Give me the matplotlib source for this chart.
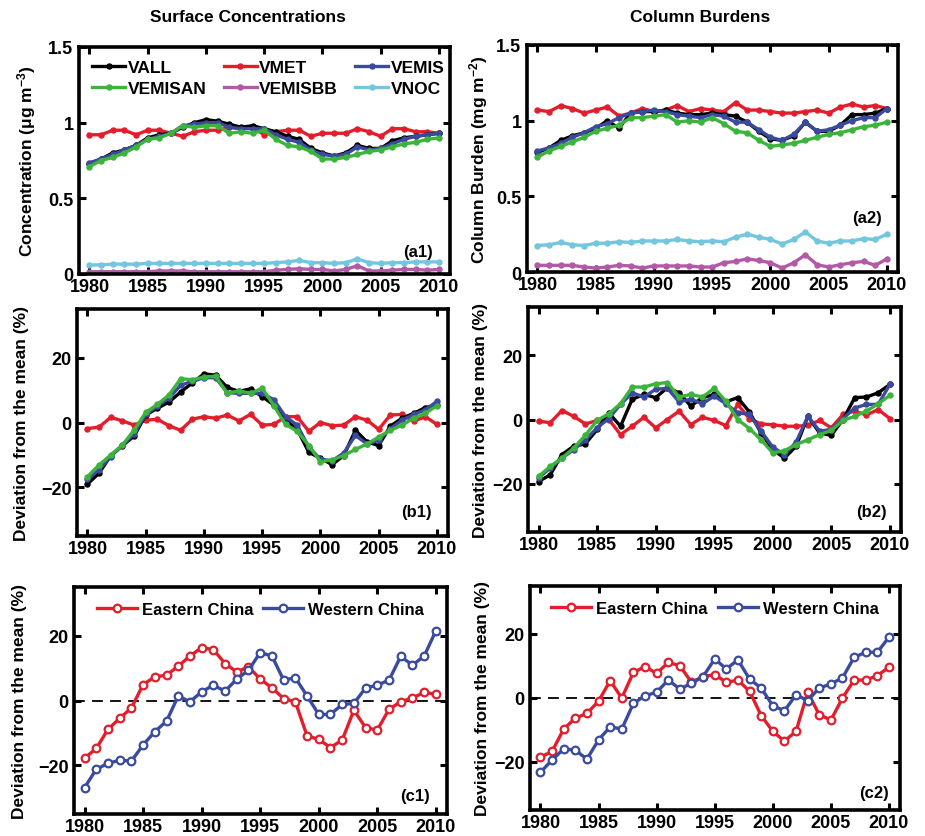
import matplotlib
matplotlib.use('Agg')
import matplotlib.pyplot as plt

plt.rcParams['font.family'] = ['Liberation Sans', 'DejaVu Sans']
plt.rcParams['font.weight'] = 'bold'
plt.rcParams['mathtext.fontset'] = 'custom'
plt.rcParams['mathtext.rm'] = 'Liberation Sans:bold'
plt.rcParams['mathtext.default'] = 'rm'

years = list(range(1980, 2011))

# ---- (a1) surface concentrations, ug m-3
a1_vall = [0.73, 0.76, 0.80, 0.82, 0.85, 0.90, 0.92, 0.93, 0.97, 1.00, 1.02, 1.01, 0.99, 0.97, 0.98, 0.96,
           0.94, 0.91, 0.89, 0.83, 0.80, 0.78, 0.80, 0.85, 0.83, 0.83, 0.88, 0.90, 0.91, 0.92, 0.93]
a1_vmet = [0.92, 0.92, 0.95, 0.95, 0.92, 0.95, 0.95, 0.93, 0.91, 0.94, 0.95, 0.95, 0.97, 0.96, 0.97, 0.92,
           0.94, 0.95, 0.95, 0.91, 0.93, 0.93, 0.93, 0.96, 0.94, 0.91, 0.96, 0.96, 0.94, 0.94, 0.93]
a1_vemis = [0.735, 0.76, 0.79, 0.82, 0.85, 0.89, 0.91, 0.93, 0.98, 0.99, 1.00, 1.00, 0.97, 0.96, 0.96, 0.96,
            0.92, 0.89, 0.87, 0.82, 0.79, 0.78, 0.79, 0.84, 0.82, 0.83, 0.86, 0.89, 0.91, 0.92, 0.93]
a1_vemisan = [0.71, 0.75, 0.77, 0.80, 0.84, 0.89, 0.90, 0.93, 0.98, 0.97, 0.98, 0.98, 0.93, 0.94, 0.93, 0.95,
              0.89, 0.85, 0.84, 0.81, 0.76, 0.76, 0.77, 0.79, 0.81, 0.82, 0.84, 0.86, 0.87, 0.89, 0.90]
a1_vemisbb = [0.015, 0.015, 0.015, 0.015, 0.015, 0.015, 0.02, 0.02, 0.02, 0.015, 0.015, 0.015, 0.015, 0.015,
              0.015, 0.015, 0.025, 0.03, 0.035, 0.03, 0.03, 0.02, 0.03, 0.055, 0.02, 0.02, 0.025, 0.03, 0.03,
              0.025, 0.03]
a1_vnoc = [0.06, 0.06, 0.065, 0.065, 0.065, 0.07, 0.07, 0.07, 0.07, 0.07, 0.07, 0.07, 0.07, 0.07, 0.07, 0.07,
           0.075, 0.08, 0.09, 0.075, 0.075, 0.07, 0.075, 0.10, 0.075, 0.07, 0.075, 0.075, 0.08, 0.08, 0.08]

# ---- (a2) column burdens, mg m-2
a2_vall = [0.79, 0.82, 0.87, 0.90, 0.92, 0.95, 1.00, 0.95, 1.05, 1.06, 1.06, 1.07, 1.05, 1.04, 1.04, 1.05,
           1.04, 1.03, 0.99, 0.93, 0.88, 0.87, 0.90, 0.99, 0.93, 0.93, 0.97, 1.04, 1.04, 1.05, 1.08]
a2_vmet = [1.07, 1.06, 1.10, 1.08, 1.05, 1.07, 1.09, 1.03, 1.05, 1.08, 1.06, 1.07, 1.10, 1.06, 1.08, 1.07,
           1.06, 1.12, 1.07, 1.07, 1.06, 1.05, 1.05, 1.06, 1.07, 1.05, 1.09, 1.11, 1.09, 1.10, 1.08]
a2_vemis = [0.80, 0.82, 0.85, 0.89, 0.92, 0.96, 0.98, 1.02, 1.05, 1.06, 1.07, 1.06, 1.04, 1.03, 1.02, 1.04,
            1.03, 0.99, 0.99, 0.94, 0.89, 0.87, 0.91, 0.99, 0.93, 0.94, 0.97, 1.00, 1.02, 1.02, 1.08]
a2_vemisan = [0.76, 0.80, 0.83, 0.86, 0.89, 0.93, 0.95, 0.97, 1.02, 1.02, 1.03, 1.04, 0.99, 1.00, 0.99, 1.02,
              0.98, 0.93, 0.92, 0.87, 0.83, 0.84, 0.85, 0.87, 0.89, 0.91, 0.92, 0.94, 0.96, 0.97, 0.99]
a2_vemisbb = [0.044, 0.044, 0.044, 0.044, 0.033, 0.026, 0.033, 0.044, 0.04, 0.026, 0.04, 0.04, 0.04, 0.04,
              0.033, 0.033, 0.061, 0.07, 0.087, 0.076, 0.061, 0.026, 0.061, 0.114, 0.048, 0.033, 0.048,
              0.061, 0.07, 0.044, 0.087]
a2_vnoc = [0.175, 0.18, 0.195, 0.18, 0.175, 0.19, 0.19, 0.20, 0.195, 0.205, 0.205, 0.205, 0.215, 0.205, 0.20,
           0.205, 0.20, 0.23, 0.25, 0.23, 0.215, 0.185, 0.215, 0.265, 0.205, 0.19, 0.205, 0.205, 0.22, 0.215,
           0.25]

# ---- (b1) deviation from mean, surface (%)
b1_vall = [-19.0, -15.6, -10.2, -7.1, -4.2, 2.3, 4.4, 6.3, 9.4, 12.2, 15.0, 14.6, 10.8, 9.6, 10.4, 8.0,
           5.4, 0.7, -2.1, -9.2, -11.0, -13.0, -10.2, -2.4, -6.0, -7.1, -1.1, 1.3, 2.8, 4.6, 5.4]
b1_vmet = [-1.9, -1.4, 1.6, 0.5, -0.8, 0.7, 1.0, -1.0, -2.4, 1.0, 1.8, 1.3, 2.3, 0.5, 2.5, -0.8,
           -0.6, 1.8, 1.8, -2.7, 0.0, -1.0, -0.8, 1.8, 0.7, -2.1, 2.3, 2.5, 0.4, 1.8, -0.6]
b1_vemis = [-17.5, -14.5, -10.5, -7.0, -3.5, 2.5, 5.0, 7.5, 11.5, 12.7, 13.8, 13.8, 9.2, 9.0, 9.0, 9.0,
            7.0, 1.8, -0.8, -7.6, -11.3, -11.8, -9.4, -4.0, -6.6, -5.5, -1.9, 0.7, 2.5, 3.9, 6.5]
b1_vemisan = [-16.7, -13.1, -10.0, -6.9, -2.4, 3.1, 5.6, 8.5, 13.5, 13.2, 14.0, 14.3, 9.0, 9.8, 9.0, 10.6,
              5.2, -0.6, -2.7, -7.1, -12.1, -11.5, -10.2, -8.3, -6.6, -4.5, -2.4, -0.8, 1.3, 2.8, 5.2]

# ---- (b2) deviation from mean, column (%)
b2_vall = [-19.3, -17.2, -10.9, -8.3, -7.6, -3.1, 2.1, -2.1, 6.3, 7.8, 6.8, 9.9, 8.3, 4.2, 6.8, 7.8,
           5.5, 6.8, 2.4, -4.2, -9.4, -12.0, -8.3, 1.0, -4.2, -4.9, 0.0, 6.8, 7.0, 8.3, 10.9]
b2_vmet = [-0.5, -1.0, 2.8, 1.0, -1.4, -0.3, 0.0, -4.7, -2.1, 0.7, -2.6, 0.0, 2.6, -1.6, 0.7, -0.3,
           -1.9, 4.7, 0.3, -1.4, -1.6, -2.1, -2.1, -1.8, -0.3, -2.6, 1.6, 2.6, 1.4, 3.1, 0.3]
b2_vemis = [-18.2, -15.1, -12.0, -9.4, -6.3, -2.6, 0.3, 4.7, 8.3, 7.0, 9.4, 9.7, 5.5, 6.3, 4.9, 7.3,
            4.9, 2.1, 1.6, -3.6, -8.6, -10.9, -7.0, 1.0, -3.6, -3.1, 0.3, 3.6, 4.7, 4.7, 10.9]
b2_vemisan = [-17.7, -14.6, -12.0, -8.9, -4.9, -0.3, 1.8, 4.9, 10.1, 10.1, 11.1, 11.5, 7.0, 7.8, 7.0, 9.7,
              5.7, 0.0, -2.8, -6.3, -10.4, -9.7, -7.8, -6.3, -4.7, -3.4, -0.3, 1.0, 2.6, 4.9, 7.5]

# ---- (c1)/(c2) regional deviations (%)
c1_east = [-17.8, -14.8, -8.9, -5.5, -2.3, 4.9, 7.3, 7.8, 10.6, 13.7, 16.3, 15.7, 11.4, 8.8, 10.4, 6.6,
           3.9, 0.6, -0.4, -10.9, -12.0, -14.5, -12.2, -3.0, -8.4, -9.1, -2.7, -0.4, 0.8, 2.5, 1.9]
c1_west = [-26.9, -21.2, -19.4, -18.4, -18.7, -13.7, -9.6, -6.4, 1.4, -0.4, 2.7, 4.7, 2.9, 6.6, 9.3, 14.8,
           13.7, 6.3, 7.0, 1.4, -4.3, -4.3, -1.2, -0.9, 3.9, 4.7, 6.3, 13.6, 10.9, 13.7, 21.5]
c2_east = [-18.5, -16.7, -9.7, -6.3, -4.8, -1.0, 5.4, 0.0, 8.0, 9.8, 7.7, 11.1, 10.1, 4.9, 6.7, 7.3,
           4.9, 5.6, 2.1, -5.5, -10.4, -13.5, -10.4, 1.8, -5.2, -6.9, 0.0, 5.6, 5.6, 7.0, 9.6]
c2_west = [-23.2, -19.4, -15.9, -16.3, -19.1, -13.1, -9.0, -9.7, -1.7, 0.7, 1.8, 5.6, 2.8, 4.6, 6.7, 12.2,
           9.1, 11.9, 5.9, 3.1, -2.4, -4.0, 1.0, -0.8, 3.1, 4.4, 6.3, 12.7, 14.3, 14.3, 19.0]

xticks = [1980, 1985, 1990, 1995, 2000, 2005, 2010]
a_yticks = [0, 0.5, 1, 1.5]
a_yticklabels = ['0', '0.5', '1', '1.5']
bc_yticks = [-20, 0, 20]

RED = '#e31e2c'
BLACK = '#000000'
BLUE = '#3a4b9f'
GREEN = '#3cb43c'
MAGENTA = '#b25aa6'
CYAN = '#72c6de'

W, H = 925, 837
fig = plt.figure(figsize=(W / 100, H / 100), dpi=100)


def add_ax(left, top, right, bottom):
    return fig.add_axes([left / W, 1 - bottom / H, (right - left) / W, (bottom - top) / H])


def style(ax, ylim, yticks, ylabels=None):
    ax.set_xlim(1979.1, 2010.95)
    ax.set_ylim(*ylim)
    ax.set_xticks(xticks)
    ax.set_yticks(yticks)
    if ylabels is not None:
        ax.set_yticklabels(ylabels)
    ax.tick_params(direction='in', top=True, right=True, length=5, width=2.2,
                   labelsize=13)
    ax.tick_params(axis='x', pad=3)
    ax.tick_params(axis='y', pad=4)
    for lab in ax.get_xticklabels() + ax.get_yticklabels():
        lab.set_fontweight('bold')
    for s in ax.spines.values():
        s.set_linewidth(2.6)


def plot_a(ax, vall, vmet, vemis, vemisan, vemisbb, vnoc):
    kw = dict(lw=2.4, marker='o', ms=3.6)
    h = {}
    h['VMET'], = ax.plot(years, vmet, color=RED, mec=RED, label='VMET', **kw)
    h['VNOC'], = ax.plot(years, vnoc, color=CYAN, mec=CYAN, label='VNOC', **kw)
    h['VEMISBB'], = ax.plot(years, vemisbb, color=MAGENTA, mec=MAGENTA, label='VEMISBB', **kw)
    h['VALL'], = ax.plot(years, vall, color=BLACK, mec=BLACK, label='VALL', **kw)
    h['VEMIS'], = ax.plot(years, vemis, color=BLUE, mec=BLUE, label='VEMIS', **kw)
    h['VEMISAN'], = ax.plot(years, vemisan, color=GREEN, mec=GREEN, label='VEMISAN', **kw)
    return h


def plot_b(ax, vall, vmet, vemis, vemisan):
    kw = dict(lw=2.4, marker='o', ms=3.6)
    ax.plot(years, vmet, color=RED, mec=RED, **kw)
    ax.plot(years, vall, color=BLACK, mec=BLACK, **kw)
    ax.plot(years, vemis, color=BLUE, mec=BLUE, **kw)
    ax.plot(years, vemisan, color=GREEN, mec=GREEN, **kw)


def plot_c(ax, east, west):
    ax.axhline(0, color='black', lw=1.3, ls=(0, (6, 4)), zorder=1)
    kw = dict(lw=2.4, marker='o', ms=5.5, mfc='white', mew=1.6)
    he, = ax.plot(years, east, color=RED, mec=RED, label='Eastern China', **kw)
    hw, = ax.plot(years, west, color=BLUE, mec=BLUE, label='Western China', **kw)
    ax.legend(handles=[he, hw], loc='upper center', ncol=2, frameon=False,
              prop={'size': 12, 'weight': 'bold'}, handlelength=2.4, handletextpad=0.3,
              columnspacing=0.6, borderaxespad=0.5)


def panel_label(ax, text, x, y):
    ax.text(x, y, text, transform=ax.transAxes, ha='right', va='center',
            fontsize=12, fontweight='bold')


# axes boxes in pixel coordinates (left, top, right, bottom)
ax_a1 = add_ax(79, 48, 450, 275)
ax_b1 = add_ax(77, 310, 448, 537)
ax_c1 = add_ax(74, 588, 447, 815)
ax_a2 = add_ax(527, 46, 898, 273)
ax_b2 = add_ax(528, 308, 901, 533)
ax_c2 = add_ax(530, 587, 900, 811)

h = plot_a(ax_a1, a1_vall, a1_vmet, a1_vemis, a1_vemisan, a1_vemisbb, a1_vnoc)
plot_a(ax_a2, a2_vall, a2_vmet, a2_vemis, a2_vemisan, a2_vemisbb, a2_vnoc)
order = ['VALL', 'VEMISAN', 'VMET', 'VEMISBB', 'VEMIS', 'VNOC']
ax_a1.legend(handles=[h[k] for k in order], labels=order, loc='upper left', ncol=3,
             frameon=False, prop={'size': 12.5, 'weight': 'bold'}, handlelength=1.9,
             handletextpad=0.15, columnspacing=1.0, borderaxespad=0.35, labelspacing=0.35)

plot_b(ax_b1, b1_vall, b1_vmet, b1_vemis, b1_vemisan)
plot_b(ax_b2, b2_vall, b2_vmet, b2_vemis, b2_vemisan)
plot_c(ax_c1, c1_east, c1_west)
plot_c(ax_c2, c2_east, c2_west)

for ax in (ax_a1, ax_a2):
    style(ax, (0, 1.5), a_yticks, a_yticklabels)
for ax in (ax_b1, ax_b2, ax_c1, ax_c2):
    style(ax, (-35, 35), bc_yticks)

lab_kw = dict(fontsize=12.5, fontweight='bold')
ax_a1.set_ylabel('Concentration (μg m$^{-3}$)', **lab_kw)
ax_a2.set_ylabel('Column Burden (mg m$^{-2}$)', **lab_kw)
for ax in (ax_b1, ax_b2, ax_c1, ax_c2):
    ax.set_ylabel('Deviation from the mean (%)', **lab_kw)
ax_a1.yaxis.set_label_coords(-0.11, 0.5)
ax_b1.yaxis.set_label_coords(-0.13, 0.5)
ax_c1.yaxis.set_label_coords(-0.125, 0.5)
ax_a2.yaxis.set_label_coords(-0.10, 0.5)
ax_b2.yaxis.set_label_coords(-0.108, 0.5)
ax_c2.yaxis.set_label_coords(-0.108, 0.5)

panel_label(ax_a1, '(a1)', 0.954, 0.10)
panel_label(ax_b1, '(b1)', 0.956, 0.11)
panel_label(ax_c1, '(c1)', 0.955, 0.083)
panel_label(ax_a2, '(a2)', 0.957, 0.24)
panel_label(ax_b2, '(b2)', 0.961, 0.093)
panel_label(ax_c2, '(c2)', 0.97, 0.076)

fig.text(248 / W, 1 - 18 / H, 'Surface Concentrations', ha='center', va='center',
         fontsize=12.5, fontweight='bold')
fig.text(700 / W, 1 - 18 / H, 'Column Burdens', ha='center', va='center',
         fontsize=12.5, fontweight='bold')

fig.savefig('out.png', dpi=100)
